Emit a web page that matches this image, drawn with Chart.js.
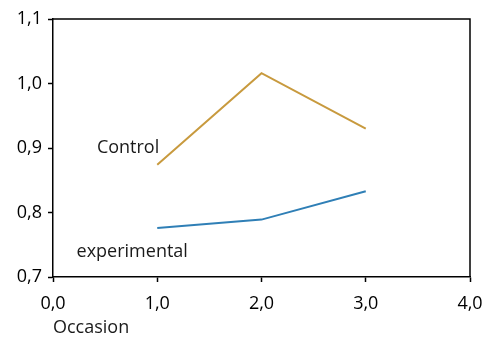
<!DOCTYPE html>
<html>
<head>
<meta charset="utf-8">
<script src="https://cdn.jsdelivr.net/npm/chart.js@4.4.0/dist/chart.umd.min.js"></script>
<style>
  html, body { margin: 0; padding: 0; background: #fff; }
  #wrap { width: 494px; height: 339px; }
</style>
</head>
<body>
<div id="wrap"><canvas id="occasionChart"></canvas></div>
<script>
// Data
const occasions = [1, 2, 3];
const controlValues = [0.874, 1.016, 0.930];
const experimentalValues = [0.776, 0.789, 0.833];
const yTicks = [0.7, 0.8, 0.9, 1.0, 1.1];
const xTicks = [0, 1, 2, 3, 4];

const fontFamily = '"Open Sans", "Noto Sans", sans-serif';

// Frame the plot area (top and right edges)
const frame = {
    id: 'frame',
    afterDraw(chart) {
        const a = chart.chartArea;
        const ctx = chart.ctx;
        ctx.save();
        ctx.strokeStyle = '#000';
        ctx.lineWidth = 1.5;
        ctx.beginPath();
        ctx.moveTo(a.left, a.top);
        ctx.lineTo(a.right, a.top);
        ctx.lineTo(a.right, a.bottom);
        ctx.stroke();
        ctx.restore();
    }
};

// Series names written inside the plot
const seriesLabels = {
    id: 'seriesLabels',
    afterDatasetsDraw(chart, args, opts) {
        const ctx = chart.ctx;
        const xs = chart.scales.x, ys = chart.scales.y;
        ctx.save();
        ctx.font = '18px ' + fontFamily;
        ctx.fillStyle = '#1a1a1a';
        ctx.textAlign = 'center';
        ctx.textBaseline = 'middle';
        opts.items.forEach(function(it) {
            ctx.fillText(it.text, xs.getPixelForValue(it.x), ys.getPixelForValue(it.y));
        });
        ctx.restore();
    }
};

new Chart(document.getElementById('occasionChart').getContext('2d'), {
    type: 'line',
    data: {
        datasets: [
            {
                label: 'Control',
                data: occasions.map((x, i) => ({ x: x, y: controlValues[i] })),
                borderColor: '#c89a3e',
                borderWidth: 2,
                pointRadius: 0,
                tension: 0
            },
            {
                label: 'experimental',
                data: occasions.map((x, i) => ({ x: x, y: experimentalValues[i] })),
                borderColor: '#2f7fb6',
                borderWidth: 2,
                pointRadius: 0,
                tension: 0
            }
        ]
    },
    options: {
        responsive: true,
        maintainAspectRatio: false,
        animation: false,
        layout: { padding: { top: 19, right: 24, left: 0, bottom: 0 } },
        scales: {
            x: {
                type: 'linear',
                min: 0,
                max: 4,
                afterBuildTicks: function(scale) { scale.ticks = xTicks.map(v => ({ value: v })); },
                afterFit: function(scale) { scale.height = 62; },
                grid: { drawOnChartArea: false, drawTicks: true, tickLength: 5, tickColor: '#000', tickWidth: 1.5 },
                border: { color: '#000', width: 1.5 },
                ticks: {
                    color: '#000',
                    padding: 11,
                    maxRotation: 0,
                    font: { family: fontFamily, size: 18 },
                    callback: v => v.toFixed(1).replace('.', ',')
                },
                title: {
                    display: true,
                    text: 'Occasion',
                    align: 'start',
                    color: '#1a1a1a',
                    font: { family: fontFamily, size: 18 },
                    padding: { top: 2, bottom: 0 }
                }
            },
            y: {
                min: 0.7,
                max: 1.1,
                afterBuildTicks: function(scale) { scale.ticks = yTicks.map(v => ({ value: v })); },
                afterFit: function(scale) { scale.width = 53; },
                grid: { drawOnChartArea: false, drawTicks: true, tickLength: 5, tickColor: '#000', tickWidth: 1.5 },
                border: { color: '#000', width: 1.5 },
                ticks: {
                    color: '#000',
                    padding: 6,
                    font: { family: fontFamily, size: 18 },
                    callback: v => v.toFixed(1).replace('.', ',')
                }
            }
        },
        plugins: {
            legend: { display: false },
            tooltip: { enabled: false },
            seriesLabels: {
                items: [
                    { text: 'Control', x: 0.72, y: 0.9 },
                    { text: 'experimental', x: 0.76, y: 0.739 }
                ]
            }
        }
    },
    plugins: [frame, seriesLabels]
});
</script>
</body>
</html>
